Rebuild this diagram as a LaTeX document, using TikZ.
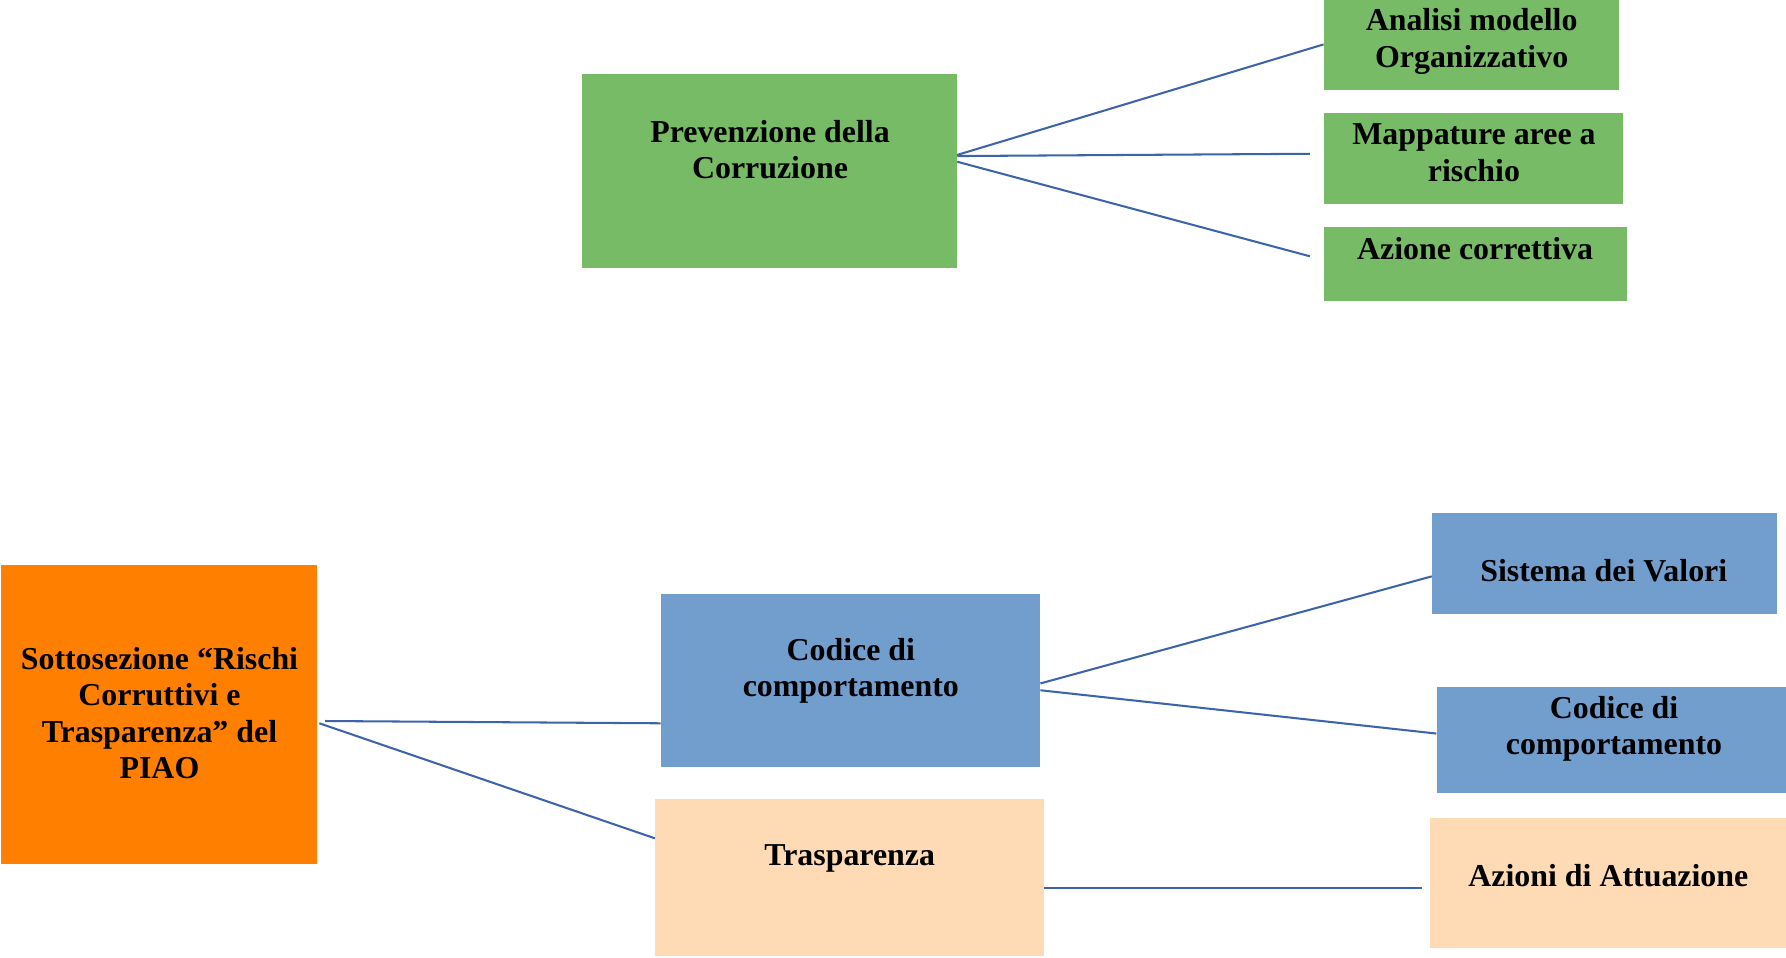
\documentclass[tikz,border=0pt]{standalone}
\usepackage{fontspec}
\setmainfont{Liberation Serif}
\usetikzlibrary{calc}
\definecolor{cgreen}{HTML}{78BB66}
\definecolor{cblue}{HTML}{729ECE}
\definecolor{cpeach}{HTML}{FEDBB4}
\definecolor{corange}{HTML}{FF7F00}
\definecolor{cline}{HTML}{3D64AB}
\begin{document}
\begin{tikzpicture}[x=1pt,y=-1pt,
  box/.style={draw=none,rectangle,inner sep=0pt,anchor=north west},
  txt/.style={inner sep=0pt,align=center,font=\bfseries\fontsize{28}{32}\selectfont},
  conn/.style={draw=cline,line width=1.8pt}]
\useasboundingbox (0,0) rectangle (1568,841);
% boxes
\node[box,fill=cgreen,minimum width=329pt,minimum height=170pt] (prev) at (511,65) {};
\node[box,fill=cgreen,minimum width=259pt,minimum height=79pt] (ana) at (1162,0) {};
\node[box,fill=cgreen,minimum width=263pt,minimum height=80pt] (map) at (1162,99) {};
\node[box,fill=cgreen,minimum width=266pt,minimum height=65pt] (azc) at (1162,199) {};
\node[box,fill=corange,minimum width=277pt,minimum height=262pt] (sot) at (1,496) {};
\node[box,fill=cblue,minimum width=333pt,minimum height=152pt] (cod) at (580,521) {};
\node[box,fill=cpeach,minimum width=341pt,minimum height=138pt] (tra) at (575,701) {};
\node[box,fill=cblue,minimum width=303pt,minimum height=89pt] (sis) at (1257,450) {};
\node[box,fill=cblue,minimum width=307pt,minimum height=93pt] (codr) at (1261,603) {};
\node[box,fill=cpeach,minimum width=313pt,minimum height=114pt] (azi) at (1255,718) {};
% texts
\node[txt] (prevt) at (676,131.5) {Prevenzione della\\Corruzione};
\node[txt] (anat) at (1292,36.5) {Analisi modello\\Organizzativo};
\node[txt] (mapt) at (1294,134) {Mappature aree a\\rischio};
\node[txt] (azct) at (1295,218) {Azione correttiva};
\node[txt] (sott) at (140,626) {Sottosezione “Rischi\\Corruttivi e\\Trasparenza” del\\PIAO};
\node[txt] (codt) at (747,589) {Codice di\\comportamento};
\node[txt] (trat) at (746,754) {Trasparenza};
\node[txt] (sist) at (1408,501) {Sistema dei Valori};
\node[txt] (codrt) at (1417,640) {Codice di\\comportamento};
\node[txt] (azit) at (1412,769) {Azioni di Attuazione};
% connectors
\draw[conn] ($(prev.north east)+(0,71)$) -- ($(ana.north west)+(0,39)$);
\draw[conn] ($(prev.north east)+(0,72)$) -- ($(map.north west)+(-12,36)$);
\draw[conn] ($(prev.north east)+(0,77)$) -- ($(azc.north west)+(-12,26)$);
\draw[conn] ($(sot.north east)+(7,137)$) -- ($(cod.north west)+(0,114)$);
\draw[conn] ($(sot.north east)+(2,139)$) -- ($(tra.north west)+(0,35)$);
\draw[conn] ($(cod.north east)+(0,79)$) -- ($(sis.north west)+(0,56)$);
\draw[conn] ($(cod.north east)+(0,85)$) -- ($(codr.north west)+(0,41)$);
\draw[conn] ($(tra.north east)+(0,79)$) -- ($(azi.north west)+(-7,62)$);
\end{tikzpicture}
\end{document}
